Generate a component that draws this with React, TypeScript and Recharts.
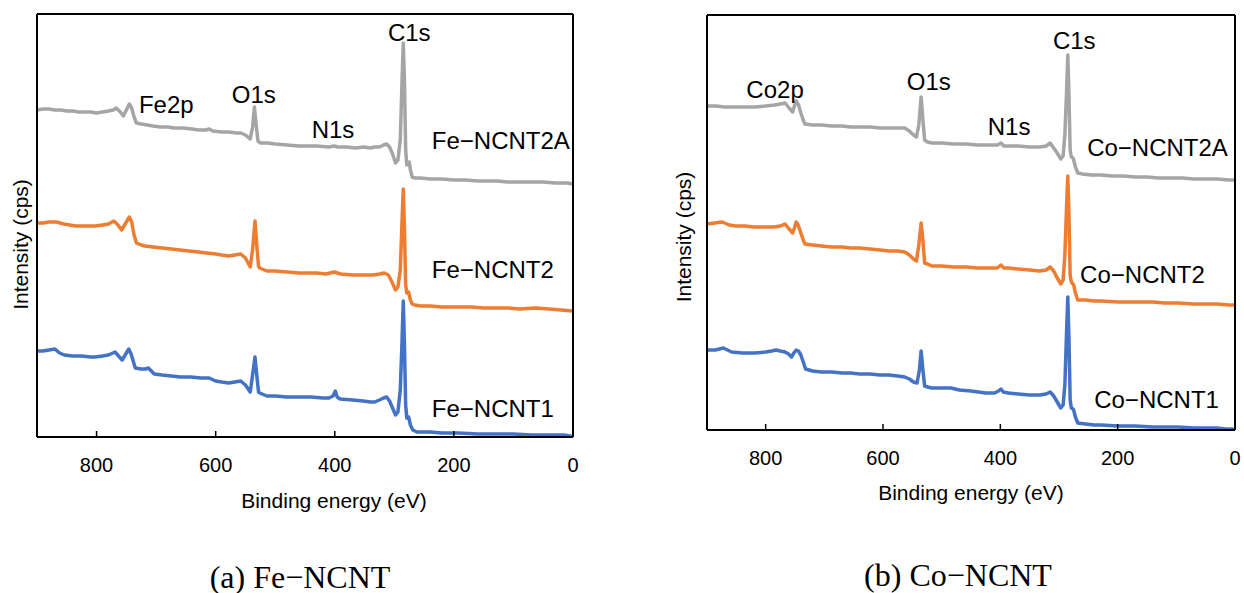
import React from 'react';
import { LineChart, Line, XAxis, YAxis, ReferenceDot } from 'recharts';

// ---------- data: [binding energy (eV), intensity (a.u.)] ----------
const energyTicks = [0, 200, 400, 600, 800];

const feNCNT2A: number[][] = [
  [900, 327], [890, 328], [880, 328], [870, 327], [860, 327], [850, 326], [840, 326], [830, 325], [820, 325], [810, 325],
  [800, 324], [790, 325], [780, 326], [772, 327], [767, 329], [760, 325], [755, 321], [750, 327], [745, 333], [741, 329],
  [737, 320], [733, 314], [725, 313], [715, 312], [705, 311], [693, 310], [680, 310], [670, 309], [655, 309], [640, 308],
  [628, 307], [616, 307], [611, 308], [605, 306], [590, 305], [578, 305], [565, 304], [558, 304], [550, 302], [542, 298],
  [538, 310], [535, 330], [532, 312], [529, 296], [525, 294], [513, 294], [500, 293], [480, 292], [460, 291], [449, 291],
  [430, 291], [410, 290], [401, 291], [395, 290], [380, 290], [365, 289], [352, 290], [340, 289], [333, 290], [325, 290],
  [318, 292], [313, 293], [308, 290], [303, 283], [298, 274], [294, 277], [290, 297], [287, 357], [285, 394], [283, 357],
  [281, 287], [279, 272], [277, 274], [275, 275], [273, 267], [270, 260], [265, 259], [256, 259], [240, 258], [220, 258],
  [200, 257], [180, 257], [160, 256], [140, 256], [127, 256], [110, 255], [90, 255], [70, 255], [50, 255], [30, 254],
  [10, 254], [0, 253],
];

const feNCNT2: number[][] = [
  [900, 214], [890, 214], [880, 215], [867, 215], [855, 213], [845, 212], [835, 211], [820, 211], [803, 211], [790, 212],
  [780, 213], [771, 216], [764, 212], [758, 207], [752, 213], [745, 220], [741, 215], [737, 202], [733, 194], [725, 192],
  [719, 191], [705, 190], [690, 189], [674, 188], [660, 187], [645, 186], [629, 185], [615, 184], [600, 183], [590, 182],
  [578, 181], [568, 182], [558, 183], [550, 179], [542, 170], [538, 187], [534, 216], [531, 192], [528, 171], [526, 169],
  [514, 166], [500, 166], [480, 165], [460, 164], [449, 164], [430, 164], [415, 163], [401, 165], [390, 163], [370, 162],
  [352, 162], [335, 162], [325, 163], [317, 164], [310, 162], [304, 155], [298, 147], [294, 150], [290, 167], [287, 217],
  [285, 248], [283, 207], [281, 152], [279, 144], [276, 145], [273, 137], [270, 133], [266, 132], [255, 131], [240, 131],
  [220, 130], [192, 130], [170, 130], [150, 129], [130, 129], [110, 129], [90, 128], [63, 129], [40, 128], [20, 127],
  [0, 126],
];

const feNCNT1: number[][] = [
  [900, 86], [890, 86], [880, 87], [870, 88], [862, 84], [854, 82], [840, 81], [825, 81], [810, 80], [803, 80],
  [790, 81], [780, 82], [769, 85], [763, 81], [757, 77], [751, 83], [746, 88], [742, 83], [738, 75], [735, 69],
  [725, 68], [718, 68], [713, 69], [708, 66], [703, 63], [690, 62], [674, 61], [660, 60], [642, 60], [625, 59],
  [611, 59], [600, 56], [590, 55], [578, 54], [568, 55], [558, 56], [550, 52], [542, 45], [538, 62], [534, 80],
  [531, 62], [528, 45], [526, 44], [514, 41], [500, 41], [481, 40], [460, 40], [440, 40], [420, 39], [410, 39],
  [403, 41], [399, 46], [396, 40], [391, 38], [370, 37], [352, 36], [340, 35], [333, 35], [325, 37], [318, 39],
  [313, 40], [308, 36], [303, 29], [298, 22], [294, 25], [290, 47], [287, 97], [285, 136], [283, 92], [281, 32],
  [279, 19], [276, 20], [273, 12], [269, 7], [262, 5], [256, 5], [240, 5], [220, 4], [192, 4], [160, 3],
  [127, 3], [100, 3], [70, 2], [50, 2], [30, 2], [15, 2], [5, 1], [0, 0],
];

const coNCNT2A: number[][] = [
  [900, 324], [885, 324], [870, 323], [851, 323], [835, 323], [819, 323], [800, 324], [785, 325], [775, 326], [767, 327],
  [760, 322], [754, 318], [751, 324], [748, 329], [744, 325], [740, 317], [736, 310], [733, 306], [720, 305], [705, 305],
  [687, 304], [670, 304], [655, 303], [640, 303], [622, 303], [605, 302], [590, 302], [575, 302], [563, 302], [555, 299],
  [548, 295], [543, 293], [539, 305], [535, 333], [532, 310], [529, 290], [524, 288], [517, 287], [500, 287], [480, 286],
  [458, 286], [440, 285], [420, 285], [405, 285], [399, 287], [394, 284], [386, 284], [370, 284], [350, 283], [333, 283],
  [322, 284], [315, 287], [309, 282], [303, 277], [297, 271], [293, 274], [290, 295], [287, 340], [285, 375], [283, 335],
  [281, 280], [279, 273], [276, 272], [275, 270], [272, 263], [268, 257], [260, 256], [245, 255], [228, 255], [210, 254],
  [190, 254], [170, 253], [150, 253], [130, 252], [110, 252], [90, 252], [70, 251], [50, 251], [30, 251], [10, 250],
  [0, 250],
];

const coNCNT2: number[][] = [
  [900, 206], [887, 207], [874, 208], [862, 205], [851, 204], [835, 204], [820, 203], [800, 203], [786, 203], [775, 204],
  [767, 206], [760, 201], [754, 197], [751, 202], [748, 208], [744, 204], [740, 197], [736, 190], [733, 186], [720, 185],
  [705, 184], [687, 183], [670, 183], [655, 182], [640, 182], [622, 181], [605, 180], [590, 179], [575, 179], [563, 178],
  [555, 175], [548, 171], [543, 169], [539, 185], [535, 207], [532, 190], [529, 167], [524, 166], [517, 164], [500, 164],
  [480, 163], [458, 163], [440, 162], [420, 162], [405, 162], [399, 165], [394, 162], [386, 162], [370, 161], [350, 160],
  [333, 159], [322, 160], [315, 163], [309, 159], [303, 152], [297, 146], [293, 150], [290, 175], [287, 225], [285, 254],
  [283, 215], [281, 155], [279, 148], [276, 146], [275, 145], [272, 137], [268, 130], [255, 130], [240, 129], [228, 129],
  [200, 128], [170, 128], [140, 128], [120, 127], [97, 127], [70, 126], [50, 126], [30, 126], [10, 125], [0, 125],
];

const coNCNT1: number[][] = [
  [900, 80], [886, 80], [872, 82], [858, 78], [840, 77], [819, 77], [800, 78], [790, 79], [782, 80], [775, 79],
  [767, 78], [761, 76], [756, 73], [752, 77], [748, 80], [744, 79], [740, 75], [736, 68], [732, 61], [720, 59],
  [705, 58], [687, 58], [670, 57], [655, 57], [640, 56], [622, 56], [605, 55], [590, 55], [575, 54], [563, 53],
  [555, 51], [548, 48], [542, 47], [538, 60], [535, 79], [532, 60], [529, 44], [524, 43], [517, 42], [500, 42],
  [484, 42], [470, 40], [450, 39], [425, 37], [410, 37], [403, 39], [399, 41], [395, 38], [386, 37], [370, 36],
  [350, 35], [333, 35], [322, 36], [315, 38], [309, 34], [303, 28], [297, 22], [293, 25], [290, 45], [287, 100],
  [285, 133], [283, 90], [281, 30], [279, 22], [276, 21], [275, 20], [272, 13], [268, 7], [255, 6], [240, 5],
  [228, 5], [200, 4], [170, 4], [140, 3], [120, 3], [97, 3], [70, 2], [50, 2], [31, 2], [15, 1], [5, 1], [0, 0],
];

// text annotations anchored in data coordinates
const feNotes = [
  { text: 'Fe2p', e: 683, v: 333, anchor: 'middle' },
  { text: 'O1s', e: 536, v: 342.5, anchor: 'middle' },
  { text: 'N1s', e: 403, v: 307.5, anchor: 'middle' },
  { text: 'C1s', e: 275, v: 404.5, anchor: 'middle' },
  { text: 'Fe\u2212NCNT2A', e: 237, v: 297, anchor: 'start' },
  { text: 'Fe\u2212NCNT2', e: 237, v: 167.5, anchor: 'start' },
  { text: 'Fe\u2212NCNT1', e: 237, v: 29, anchor: 'start' },
];

const coNotes = [
  { text: 'Co2p', e: 784, v: 340.5, anchor: 'middle' },
  { text: 'O1s', e: 522, v: 349, anchor: 'middle' },
  { text: 'N1s', e: 385, v: 304, anchor: 'middle' },
  { text: 'C1s', e: 274, v: 390, anchor: 'middle' },
  { text: 'Co\u2212NCNT2A', e: 252, v: 282.5, anchor: 'start' },
  { text: 'Co\u2212NCNT2', e: 264, v: 155.5, anchor: 'start' },
  { text: 'Co\u2212NCNT1', e: 240, v: 30.5, anchor: 'start' },
];

const GRAY = '#A5A5A5';
const ORANGE = '#ED7D31';
const BLUE = '#4472C4';
const SANS = '"Liberation Sans", Arial, Helvetica, sans-serif';
const SERIF = '"Liberation Serif", "Times New Roman", serif';

const toPts = (arr: number[][]) => arr.map(([e, v]) => ({ e, v }));

type PanelProps = {
  width: number;
  height: number;
  margin: { top: number; right: number; bottom: number; left: number };
  yMax: number;
  series: { name: string; data: number[][]; color: string }[];
  notes: { text: string; e: number; v: number; anchor: string }[];
  yLab: { dx: number; dy: number };
  xLab: { dx: number; dy: number };
};

function Panel({ width, height, margin, yMax, series, notes, yLab, xLab }: PanelProps) {
  const border = { stroke: '#000', strokeWidth: 2 };
  return (
    <LineChart width={width} height={height} margin={margin}>
      <XAxis
        xAxisId="b"
        dataKey="e"
        type="number"
        domain={[0, 900]}
        reversed
        allowDataOverflow
        ticks={energyTicks}
        interval={0}
        height={60}
        axisLine={border}
        tickLine={{ stroke: '#000', strokeWidth: 1.5 }}
        tickSize={-6}
        tickMargin={26.5}
        tick={{ fill: '#000', fontSize: 20, fontFamily: SANS }}
        label={(p: any) => {
          const vb = p.viewBox || {};
          return (
            <text
              x={vb.x + vb.width / 2 + xLab.dx}
              y={vb.y + xLab.dy}
              textAnchor="middle"
              fontSize={21}
              fontFamily={SANS}
              fill="#000"
            >
              Binding energy (eV)
            </text>
          );
        }}
      />
      <XAxis
        xAxisId="t"
        orientation="top"
        type="number"
        domain={[0, 900]}
        reversed
        allowDataOverflow
        height={1}
        tick={false}
        tickLine={false}
        axisLine={border}
      />
      <YAxis
        yAxisId="l"
        type="number"
        domain={[0, yMax]}
        allowDataOverflow
        width={1}
        tick={false}
        tickLine={false}
        axisLine={border}
        label={(p: any) => {
          const vb = p.viewBox || {};
          const x = vb.x + vb.width + yLab.dx;
          const y = vb.y + vb.height / 2 + yLab.dy;
          return (
            <text
              x={x}
              y={y}
              transform={`rotate(-90 ${x} ${y})`}
              textAnchor="middle"
              dominantBaseline="central"
              fontSize={21}
              fontFamily={SANS}
              fill="#000"
            >
              Intensity (cps)
            </text>
          );
        }}
      />
      <YAxis
        yAxisId="r"
        orientation="right"
        type="number"
        domain={[0, yMax]}
        allowDataOverflow
        width={1}
        tick={false}
        tickLine={false}
        axisLine={border}
      />
      {series.map((s) => (
        <Line
          key={s.name}
          name={s.name}
          xAxisId="b"
          yAxisId="l"
          data={toPts(s.data)}
          dataKey="v"
          type="linear"
          stroke={s.color}
          strokeWidth={3.5}
          strokeLinejoin="round"
          dot={false}
          activeDot={false}
          isAnimationActive={false}
        />
      ))}
      {notes.map((n) => (
        <ReferenceDot
          key={n.text}
          xAxisId="b"
          yAxisId="l"
          x={n.e}
          y={n.v}
          r={0}
          fill="none"
          stroke="none"
          label={(p: any) => {
            const vb = p.viewBox || {};
            return (
              <text
                x={vb.x + (vb.width || 0) / 2}
                y={vb.y + (vb.height || 0) / 2}
                textAnchor={n.anchor as any}
                dominantBaseline="central"
                fontSize={24}
                fontFamily={SANS}
                fill="#000"
              >
                {n.text}
              </text>
            );
          }}
        />
      ))}
    </LineChart>
  );
}

export default function App() {
  return (
    <div style={{ position: 'absolute', left: 0, top: 0, width: 1244, height: 593, background: '#fff', overflow: 'hidden' }}>
      <div style={{ position: 'absolute', left: 0, top: 0 }}>
        <Panel
          width={600}
          height={520}
          margin={{ top: 13, right: 26, bottom: 23, left: 36 }}
          yMax={423}
          series={[
            { name: 'Fe-NCNT2A', data: feNCNT2A, color: GRAY },
            { name: 'Fe-NCNT2', data: feNCNT2, color: ORANGE },
            { name: 'Fe-NCNT1', data: feNCNT1, color: BLUE },
          ]}
          notes={feNotes}
          yLab={{ dx: -17, dy: 19 }}
          xLab={{ dx: 29, dy: 71 }}
        />
      </div>
      <div style={{ position: 'absolute', left: 650, top: 0 }}>
        <Panel
          width={594}
          height={520}
          margin={{ top: 14, right: 8, bottom: 30, left: 56 }}
          yMax={415}
          series={[
            { name: 'Co-NCNT2A', data: coNCNT2A, color: GRAY },
            { name: 'Co-NCNT2', data: coNCNT2, color: ORANGE },
            { name: 'Co-NCNT1', data: coNCNT1, color: BLUE },
          ]}
          notes={coNotes}
          yLab={{ dx: -24, dy: 14.5 }}
          xLab={{ dx: 0, dy: 70 }}
        />
      </div>
      <svg style={{ position: 'absolute', left: 0, top: 520 }} width={1244} height={73}>
        <text x={300} y={67.5} textAnchor="middle" fontSize={32} fontFamily={SERIF} fill="#000">
          (a) Fe{'\u2212'}NCNT
        </text>
        <text x={958} y={66} textAnchor="middle" fontSize={32} fontFamily={SERIF} fill="#000">
          (b) Co{'\u2212'}NCNT
        </text>
      </svg>
    </div>
  );
}
